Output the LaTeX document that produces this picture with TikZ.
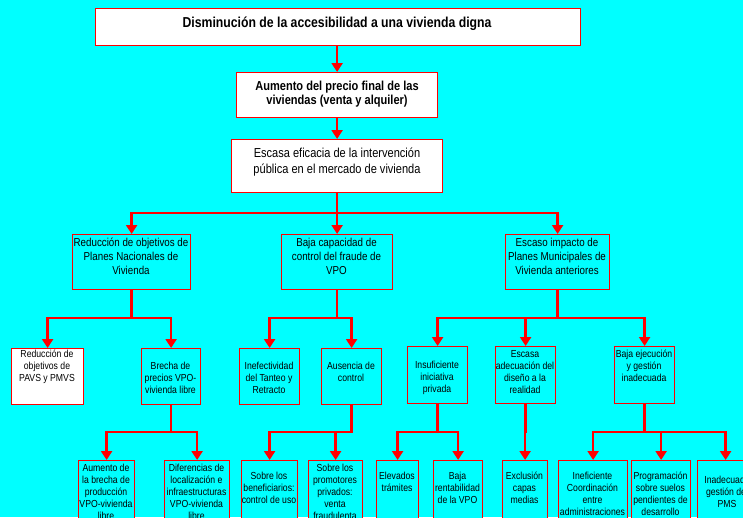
\documentclass[tikz,border=0pt]{standalone}
\usepackage{fontspec}
\setmainfont[FakeStretch=0.85]{Liberation Sans}
\usetikzlibrary{arrows.meta}
\definecolor{bg}{RGB}{0,255,255}
\definecolor{rd}{RGB}{255,0,0}
\begin{document}
\begin{tikzpicture}[x=1pt,y=-1pt,
  box/.style={draw=rd, line width=1.2pt, fill=bg, inner sep=0pt, anchor=north west},
  wbox/.style={box, fill=white},
  txt/.style={align=center, inner sep=0pt, text=black},
  tz/.style={font=\fontsize{14.4}{17}\bfseries\selectfont},
  tob/.style={font=\fontsize{13}{14.5}\bfseries\selectfont},
  to/.style={font=\fontsize{13}{16}\selectfont},
  ttw/.style={font=\fontsize{11.5}{14}\selectfont},
  tth/.style={font=\fontsize{10.2}{12}\selectfont},
  conn/.style={draw=rd, line width=2.5pt, line join=miter, -{Triangle[width=11pt,length=9pt]}}]
\useasboundingbox (0,0) rectangle (743,517);
\fill[bg] (0,0) rectangle (743,517);
\clip (0,0) rectangle (743,517);
% junction coordinates
\coordinate (ja) at (0,213);
\coordinate (jb) at (0,318);
\coordinate (jc) at (0,432);
% boxes
\node[wbox, minimum width=485pt, minimum height=37pt] (b1) at (95,8) {};
\node[wbox, minimum width=201pt, minimum height=45pt] (b2) at (236,72) {};
\node[wbox, minimum width=211pt, minimum height=53pt] (b3) at (231,139) {};
\node[box, minimum width=118pt, minimum height=55pt] (b4) at (72,234) {};
\node[box, minimum width=111pt, minimum height=55pt] (b5) at (281,234) {};
\node[box, minimum width=104pt, minimum height=55pt] (b6) at (505,234) {};
\node[wbox, minimum width=72pt, minimum height=56pt] (b7) at (11,348) {};
\node[box, minimum width=59pt, minimum height=56pt] (b8) at (141,348) {};
\node[box, minimum width=60pt, minimum height=56pt] (b9) at (239,348) {};
\node[box, minimum width=60pt, minimum height=56pt] (b10) at (321,348) {};
\node[box, minimum width=60pt, minimum height=57pt] (b11) at (407,346) {};
\node[box, minimum width=60pt, minimum height=57pt] (b12) at (495,346) {};
\node[box, minimum width=60pt, minimum height=57pt] (b13) at (614,346) {};
\node[box, minimum width=56pt, minimum height=70pt] (b14) at (78,460) {};
\node[box, minimum width=65pt, minimum height=70pt] (b15) at (164,460) {};
\node[box, minimum width=56pt, minimum height=70pt] (b16) at (241,460) {};
\node[box, minimum width=54pt, minimum height=70pt] (b17) at (308,460) {};
\node[box, minimum width=42pt, minimum height=70pt] (b18) at (376,460) {};
\node[box, minimum width=49pt, minimum height=70pt] (b19) at (433,460) {};
\node[box, minimum width=45pt, minimum height=70pt] (b20) at (502,460) {};
\node[box, minimum width=69pt, minimum height=70pt] (b21) at (558,460) {};
\node[box, minimum width=59pt, minimum height=70pt] (b22) at (631,460) {};
\node[box, minimum width=56pt, minimum height=70pt] (b23) at (697,460) {};
% texts
\node[txt, tz] (t1) at (337,24) {Disminución de la accesibilidad a una vivienda digna};
\node[txt, tob] (t2) at (337,94) {Aumento del precio final de las\\viviendas (venta y alquiler)};
\node[txt, to] (t3) at (337,162) {Escasa eficacia de la intervención\\pública en el mercado de vivienda};
\node[txt, ttw] (t4) at (131,256) {Reducción de objetivos de\\Planes Nacionales de\\Vivienda};
\node[txt, ttw] (t5) at (336.5,256) {Baja capacidad de\\control del fraude de\\VPO};
\node[txt, ttw] (t6) at (557,256) {Escaso impacto de\\Planes Municipales de\\Vivienda anteriores};
\node[txt, tth] (t7) at (47,367) {Reducción de\\objetivos de\\PAVS y PMVS};
\node[txt, tth] (t8) at (170.5,378) {Brecha de\\precios VPO-\\vivienda libre};
\node[txt, tth] (t9) at (269,378) {Inefectividad\\del Tanteo y\\Retracto};
\node[txt, tth] (t10) at (351,372) {Ausencia de\\control};
\node[txt, tth] (t11) at (437,378) {Insuficiente\\iniciativa\\privada};
\node[txt, tth] (t12) at (525,372) {Escasa\\adecuación del\\diseño a la\\realidad};
\node[txt, tth] (t13) at (644,366) {Baja ejecución\\y gestión\\inadecuada};
\node[txt, tth] (t14) at (106,492) {Aumento de\\la brecha de\\producción\\VPO-vivienda\\libre};
\node[txt, tth] (t15) at (196.5,492) {Diferencias de\\localización e\\infraestructuras\\VPO-vivienda\\libre};
\node[txt, tth] (t16) at (269,488) {Sobre los\\beneficiarios:\\control de uso};
\node[txt, tth] (t17) at (335,492) {Sobre los\\promotores\\privados:\\venta\\fraudulenta};
\node[txt, tth] (t18) at (397,482) {Elevados\\trámites};
\node[txt, tth] (t19) at (457.5,488) {Baja\\rentabilidad\\de la VPO};
\node[txt, tth] (t20) at (524.5,488) {Exclusión\\capas\\medias};
\node[txt, tth] (t21) at (592.5,494) {Ineficiente\\Coordinación\\entre\\administraciones};
\node[txt, tth] (t22) at (660.5,494) {Programación\\sobre suelos\\pendientes de\\desarrollo};
\node[txt, tth] (t23) at (727,492) {Inadecuada\\gestión del\\PMS};
% connectors
\draw[conn] (b2.north |- b1.south) -- (b2.north);
\draw[conn] (b3.north |- b2.south) -- (b3.north);
\foreach \c in {b4,b5,b6} \draw[conn] (b3.south) -- (b3.south |- ja) -| (\c.north);
\foreach \c in {b7,b8} \draw[conn] (b4.south) -- (b4.south |- jb) -| (\c.north);
\foreach \c in {b9,b10} \draw[conn] (b5.south) -- (b5.south |- jb) -| (\c.north);
\foreach \c in {b11,b12,b13} \draw[conn] (b6.south) -- (b6.south |- jb) -| (\c.north);
\foreach \c in {b14,b15} \draw[conn] (b8.south) -- (b8.south |- jc) -| (\c.north);
\foreach \c in {b16,b17} \draw[conn] (b10.south) -- (b10.south |- jc) -| (\c.north);
\foreach \c in {b18,b19} \draw[conn] (b11.south) -- (b11.south |- jc) -| (\c.north);
\draw[conn] (b12.south) -- (b12.south |- jc) -| (b20.north);
\foreach \c in {b21,b22,b23} \draw[conn] (b13.south) -- (b13.south |- jc) -| (\c.north);
\end{tikzpicture}
\end{document}
